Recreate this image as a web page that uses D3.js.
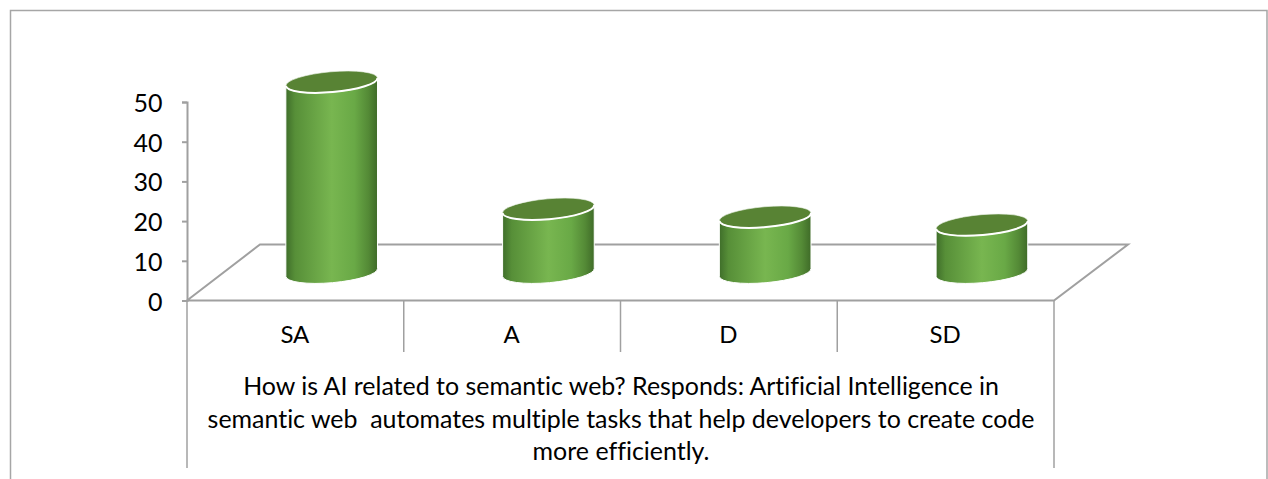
<!DOCTYPE html>
<html>
<head>
<meta charset="utf-8">
<script src="https://cdn.jsdelivr.net/npm/d3@7/dist/d3.min.js"></script>
<style>
  html, body { margin: 0; padding: 0; background: #fff; overflow: hidden; }
  text { font-family: Lato, "Open Sans", sans-serif; fill: #000; font-variant-ligatures: none; white-space: pre; }
</style>
</head>
<body>
<svg id="chart"></svg>
<script>
const categories = ['SA', 'A', 'D', 'SD'];
const values = [48, 16, 14, 12];
const yTicks = [0, 10, 20, 30, 40, 50];
const titleLines = [
  'How is AI related to semantic web? Responds: Artificial Intelligence in',
  'semantic web  automates multiple tasks that help developers to create code',
  'more efficiently.'
];

const width = 1268, height = 479;
const left = 187, right = 1054, floorY = 300.5;
const depthX = 73, depthY = -56;   // how far the back edge of the floor is shifted
const axisColor = '#a0a0a0';

const svg = d3.select('#chart').attr('width', width).attr('height', height);

// outer frame, cut off by the bottom of the picture
svg.append('path')
  .attr('d', `M10.5,${height}V10.5H1267V${height}`)
  .attr('fill', 'none').attr('stroke', '#a6a6a6').attr('stroke-width', 1.5);

const x = d3.scaleBand().domain(categories).range([left, right]);
const y = d3.scaleLinear().domain([0, 50]).range([floorY, 102]);

// floor
svg.append('path')
  .attr('d', `M${left},${floorY}L${left + depthX},${floorY + depthY}H${right + depthX + 1}L${right},${floorY}Z`)
  .attr('fill', 'none').attr('stroke', axisColor).attr('stroke-width', 2);

// y axis
const yAxis = svg.append('g')
  .attr('transform', `translate(${left},0)`)
  .call(d3.axisLeft(y).tickValues(yTicks).tickSize(5).tickPadding(19.5));
yAxis.selectAll('path, line').attr('stroke', axisColor).attr('stroke-width', 2);
yAxis.selectAll('text').style('font-size', '25px').attr('dy', '0.38em');

// category separators and labels
svg.append('g').selectAll('line')
  .data(categories.slice(1))
  .join('line')
  .attr('x1', d => x(d)).attr('x2', d => x(d))
  .attr('y1', floorY).attr('y2', 352)
  .attr('stroke', axisColor).attr('stroke-width', 1.5);

svg.append('g').selectAll('line')
  .data([left, right])
  .join('line')
  .attr('x1', d => d).attr('x2', d => d)
  .attr('y1', floorY).attr('y2', 468)
  .attr('stroke', axisColor).attr('stroke-width', 1.5);

svg.append('g').selectAll('text')
  .data(categories)
  .join('text')
  .attr('x', d => x(d) + x.bandwidth() / 2 - 0.5)
  .attr('y', 343)
  .attr('text-anchor', 'middle')
  .style('font-size', '24px')
  .text(d => d);

svg.append('g').selectAll('text')
  .data(titleLines)
  .join('text')
  .attr('x', (left + right) / 2 + 0.5)
  .attr('y', (d, i) => 395 + i * 32.5)
  .attr('text-anchor', 'middle')
  .style('font-size', '24.95px')
  .text(d => d);

// cylinders
const defs = svg.append('defs');
const grad = defs.append('linearGradient').attr('id', 'side');
[[0, '#3f6e2a'], [0.1, '#578f38'], [0.5, '#78b650'], [0.75, '#69a946'], [0.9, '#548a36'], [1, '#3f6b28']]
  .forEach(s => grad.append('stop').attr('offset', s[0]).attr('stop-color', s[1]));

const rx = 46, ry = 10.2, tilt = -5;
const dx = rx * Math.cos(tilt * Math.PI / 180), dy = rx * Math.sin(tilt * Math.PI / 180);
const baseY = 272.5;   // centre of the bottom ellipse
const unit = (floorY - y(10)) / 10;

const bars = svg.append('g').selectAll('g')
  .data(categories.map((c, i) => ({ c, v: values[i] })))
  .join('g')
  .attr('transform', d => `translate(${x(d.c) + x.bandwidth() / 2 + 36.3},0)`);

bars.append('path')
  .attr('d', d => {
    const top = baseY - d.v * unit;
    return `M${-dx},${top - dy}V${baseY - dy}A${rx},${ry} ${tilt} 0 0 ${dx},${baseY + dy}V${top + dy}Z`;
  })
  .attr('fill', 'url(#side)')
  .attr('stroke', '#fff').attr('stroke-width', 1);

bars.append('ellipse')
  .attr('rx', rx).attr('ry', ry)
  .attr('transform', d => `translate(0,${baseY - d.v * unit}) rotate(${tilt})`)
  .attr('fill', '#588334')
  .attr('stroke', '#eef3ea').attr('stroke-width', 0.6);

// the white rim only shows along the front of the top ellipse
bars.append('path')
  .attr('d', d => {
    const top = baseY - d.v * unit;
    return `M${-dx},${top - dy}A${rx},${ry} ${tilt} 0 0 ${dx},${top + dy}`;
  })
  .attr('fill', 'none')
  .attr('stroke', '#fff').attr('stroke-width', 2);
</script>
</body>
</html>
